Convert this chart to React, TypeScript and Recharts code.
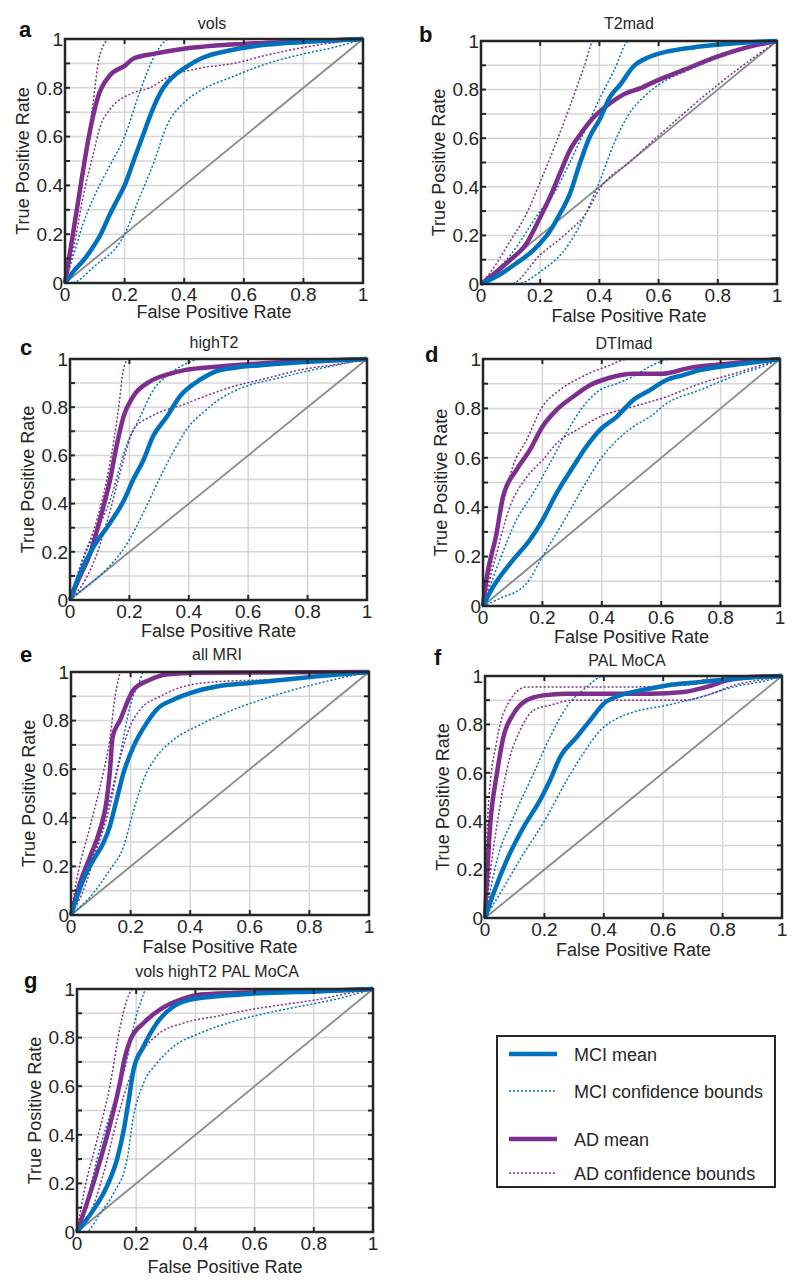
import React from 'react';
import { LineChart, Line, XAxis, YAxis, ReferenceLine, ReferenceArea } from 'recharts';

type Pair = [number, number];

const MCI_COLOR = '#0072BD';
const AD_COLOR = '#7E2F8E';
const CHANCE_COLOR = '#8a8a8a';
const GRID_COLOR = '#d6d6d6';
const INK = '#262626';
const FONT = '"Liberation Sans", Arial, Helvetica, sans-serif';

const axisTicks = [0, 0.2, 0.4, 0.6, 0.8, 1];
const axisTickLabels = ['0', '0.2', '0.4', '0.6', '0.8', '1'];
const yGridTicks = [0.1, 0.2, 0.3, 0.4, 0.5, 0.6, 0.7, 0.8, 0.9];
const xGridTicks = [0.2, 0.4, 0.6, 0.8];
const chance: Pair[] = [[0, 0], [1, 1]];

// a - vols
const volsMciMean: Pair[] = [[0, 0], [0.03, 0.05], [0.06, 0.09], [0.09, 0.14], [0.12, 0.2], [0.15, 0.28], [0.175, 0.34], [0.2, 0.4], [0.23, 0.5], [0.263, 0.61], [0.297, 0.72], [0.33, 0.8], [0.364, 0.847], [0.41, 0.888], [0.46, 0.922], [0.56, 0.955], [0.68, 0.977], [0.8, 0.988], [1, 1]];
const volsMciUpper: Pair[] = [[0, 0], [0.03, 0.12], [0.06, 0.24], [0.1, 0.36], [0.15, 0.48], [0.2, 0.6], [0.25, 0.78], [0.3, 0.93], [0.35, 1], [1, 1]];
const volsMciLower: Pair[] = [[0, 0], [0.02, 0], [0.1, 0.07], [0.2, 0.2], [0.25, 0.35], [0.3, 0.5], [0.34, 0.64], [0.4, 0.74], [0.45, 0.785], [0.566, 0.847], [0.68, 0.9], [0.79, 0.936], [0.9, 0.965], [1, 1]];
const volsAdMean: Pair[] = [[0, 0], [0.02, 0.15], [0.05, 0.38], [0.08, 0.6], [0.11, 0.76], [0.15, 0.85], [0.2, 0.89], [0.23, 0.92], [0.3, 0.94], [0.4, 0.96], [0.6, 0.98], [0.8, 0.99], [1, 1]];
const volsAdUpper: Pair[] = [[0, 0], [0.03, 0.2], [0.06, 0.45], [0.09, 0.7], [0.118, 0.94], [0.15, 1], [1, 1]];
const volsAdLower: Pair[] = [[0, 0], [0.03, 0.15], [0.06, 0.35], [0.095, 0.53], [0.118, 0.64], [0.15, 0.71], [0.23, 0.78], [0.285, 0.8], [0.34, 0.84], [0.45, 0.88], [0.566, 0.9], [0.68, 0.935], [0.79, 0.963], [1, 1]];

// b - T2mad
const t2MciMean: Pair[] = [[0, 0], [0.065, 0.04], [0.12, 0.086], [0.178, 0.14], [0.234, 0.22], [0.267, 0.29], [0.3, 0.37], [0.335, 0.5], [0.369, 0.61], [0.4, 0.675], [0.436, 0.77], [0.47, 0.82], [0.515, 0.895], [0.57, 0.935], [0.627, 0.956], [0.74, 0.977], [0.85, 0.99], [1, 1]];
const t2MciUpper: Pair[] = [[0, 0], [0.1, 0.12], [0.2, 0.3], [0.25, 0.38], [0.3, 0.5], [0.35, 0.63], [0.4, 0.76], [0.45, 0.88], [0.5, 1], [1, 1]];
const t2MciLower: Pair[] = [[0, 0], [0.12, 0], [0.2, 0.05], [0.3, 0.17], [0.35, 0.28], [0.4, 0.42], [0.45, 0.58], [0.5, 0.7], [0.55, 0.77], [0.6, 0.82], [0.7, 0.88], [0.8, 0.93], [0.9, 0.97], [1, 1]];
const t2AdMean: Pair[] = [[0, 0], [0.1, 0.1], [0.15, 0.16], [0.2, 0.275], [0.234, 0.36], [0.267, 0.456], [0.3, 0.55], [0.335, 0.615], [0.38, 0.685], [0.436, 0.744], [0.49, 0.785], [0.537, 0.805], [0.6, 0.84], [0.683, 0.88], [0.795, 0.935], [0.908, 0.977], [1, 1]];
const t2AdUpper: Pair[] = [[0, 0], [0.05, 0.08], [0.1, 0.18], [0.15, 0.28], [0.2, 0.42], [0.25, 0.57], [0.3, 0.73], [0.35, 0.9], [0.38, 1], [1, 1]];
const t2AdLower: Pair[] = [[0, 0], [0.1, 0], [0.2, 0.12], [0.29, 0.21], [0.36, 0.3], [0.4, 0.39], [0.5, 0.5], [0.6, 0.61], [0.8, 0.82], [1, 1]];

// c - highT2
const hiMciMean: Pair[] = [[0, 0], [0.034, 0.11], [0.079, 0.22], [0.135, 0.32], [0.18, 0.41], [0.213, 0.5], [0.247, 0.58], [0.28, 0.68], [0.326, 0.76], [0.37, 0.845], [0.438, 0.914], [0.494, 0.95], [0.55, 0.963], [0.663, 0.976], [0.775, 0.986], [1, 1]];
const hiMciUpper: Pair[] = [[0, 0], [0.045, 0.17], [0.135, 0.415], [0.19, 0.64], [0.236, 0.76], [0.28, 0.87], [0.337, 0.94], [0.39, 0.98], [0.44, 1], [1, 1]];
const hiMciLower: Pair[] = [[0, 0], [0.05, 0.05], [0.1, 0.1], [0.2, 0.25], [0.25, 0.37], [0.3, 0.5], [0.35, 0.62], [0.4, 0.72], [0.45, 0.78], [0.5, 0.83], [0.6, 0.89], [0.7, 0.92], [0.8, 0.95], [0.9, 0.975], [1, 1]];
const hiAdMean: Pair[] = [[0, 0], [0.034, 0.1], [0.067, 0.19], [0.1, 0.33], [0.135, 0.5], [0.157, 0.64], [0.18, 0.76], [0.213, 0.845], [0.27, 0.907], [0.326, 0.935], [0.39, 0.955], [0.494, 0.968], [0.663, 0.983], [1, 1]];
const hiAdUpper: Pair[] = [[0, 0], [0.034, 0.14], [0.09, 0.33], [0.135, 0.57], [0.163, 0.79], [0.18, 0.957], [0.197, 1], [1, 1]];
const hiAdLower: Pair[] = [[0, 0], [0.045, 0.07], [0.09, 0.19], [0.135, 0.37], [0.18, 0.58], [0.213, 0.706], [0.27, 0.76], [0.326, 0.79], [0.38, 0.81], [0.438, 0.838], [0.55, 0.886], [0.663, 0.92], [0.775, 0.955], [0.888, 0.976], [1, 1]];

// d - DTImad
const dtiMciMean: Pair[] = [[0, 0], [0.034, 0.077], [0.1, 0.185], [0.157, 0.266], [0.2, 0.347], [0.247, 0.455], [0.303, 0.563], [0.348, 0.645], [0.393, 0.712], [0.45, 0.766], [0.506, 0.834], [0.562, 0.874], [0.618, 0.915], [0.674, 0.935], [0.73, 0.955], [0.843, 0.976], [1, 1]];
const dtiMciUpper: Pair[] = [[0, 0], [0.056, 0.185], [0.112, 0.347], [0.168, 0.455], [0.225, 0.577], [0.28, 0.7], [0.337, 0.807], [0.393, 0.874], [0.45, 0.9], [0.506, 0.93], [0.562, 0.97], [0.635, 1], [1, 1]];
const dtiMciLower: Pair[] = [[0, 0], [0.056, 0.03], [0.146, 0.09], [0.2, 0.2], [0.28, 0.36], [0.337, 0.48], [0.393, 0.59], [0.45, 0.67], [0.506, 0.726], [0.562, 0.766], [0.618, 0.82], [0.73, 0.874], [0.843, 0.93], [0.955, 0.976], [1, 1]];
const dtiAdMean: Pair[] = [[0, 0], [0.011, 0.104], [0.045, 0.29], [0.067, 0.44], [0.112, 0.55], [0.157, 0.63], [0.2, 0.726], [0.247, 0.793], [0.303, 0.847], [0.36, 0.894], [0.416, 0.92], [0.506, 0.94], [0.6, 0.94], [0.7, 0.965], [0.8, 0.978], [0.9, 0.99], [1, 1]];
const dtiAdUpper: Pair[] = [[0, 0], [0.022, 0.13], [0.056, 0.347], [0.1, 0.563], [0.146, 0.67], [0.2, 0.807], [0.258, 0.874], [0.337, 0.93], [0.416, 0.97], [0.494, 1], [1, 1]];
const dtiAdLower: Pair[] = [[0, 0], [0.045, 0.21], [0.09, 0.4], [0.146, 0.52], [0.2, 0.59], [0.258, 0.67], [0.315, 0.712], [0.393, 0.766], [0.506, 0.807], [0.618, 0.847], [0.73, 0.9], [0.843, 0.94], [0.955, 0.982], [1, 1]];

// e - all MRI
const mriMciMean: Pair[] = [[0, 0], [0.041, 0.144], [0.075, 0.227], [0.108, 0.295], [0.13, 0.364], [0.153, 0.474], [0.176, 0.584], [0.21, 0.694], [0.254, 0.79], [0.287, 0.845], [0.343, 0.886], [0.4, 0.913], [0.489, 0.94], [0.6, 0.955], [0.713, 0.968], [0.824, 0.982], [1, 1]];
const mriMciUpper: Pair[] = [[0, 0], [0.03, 0.13], [0.086, 0.28], [0.13, 0.474], [0.164, 0.652], [0.198, 0.859], [0.232, 0.968], [0.243, 1], [1, 1]];
const mriMciLower: Pair[] = [[0, 0], [0.075, 0.09], [0.13, 0.185], [0.176, 0.28], [0.21, 0.43], [0.243, 0.556], [0.287, 0.652], [0.343, 0.72], [0.433, 0.783], [0.545, 0.845], [0.657, 0.893], [0.768, 0.934], [0.88, 0.968], [1, 1]];
const mriAdMean: Pair[] = [[0, 0], [0.03, 0.13], [0.064, 0.24], [0.097, 0.35], [0.12, 0.474], [0.13, 0.584], [0.14, 0.735], [0.164, 0.8], [0.21, 0.927], [0.265, 0.968], [0.32, 0.99], [0.433, 0.997], [1, 1]];
const mriAdUpper: Pair[] = [[0, 0], [0.019, 0.144], [0.064, 0.364], [0.108, 0.584], [0.13, 0.72], [0.148, 0.9], [0.17, 1], [1, 1]];
const mriAdLower: Pair[] = [[0, 0], [0.041, 0.1], [0.086, 0.268], [0.13, 0.446], [0.164, 0.64], [0.198, 0.776], [0.232, 0.845], [0.3, 0.9], [0.377, 0.94], [0.489, 0.96], [0.657, 0.968], [0.824, 0.98], [1, 1]];

// f - PAL MoCA
const palMciMean: Pair[] = [[0, 0], [0.028, 0.1], [0.073, 0.238], [0.13, 0.376], [0.185, 0.486], [0.219, 0.569], [0.253, 0.665], [0.309, 0.748], [0.354, 0.817], [0.4, 0.886], [0.455, 0.92], [0.522, 0.94], [0.612, 0.961], [0.725, 0.975], [0.837, 0.989], [1, 1]];
const palMciUpper: Pair[] = [[0, 0], [0.04, 0.238], [0.096, 0.417], [0.163, 0.596], [0.219, 0.748], [0.275, 0.872], [0.343, 0.955], [0.4, 1], [1, 1]];
const palMciLower: Pair[] = [[0, 0], [0.05, 0.1], [0.13, 0.266], [0.2, 0.4], [0.275, 0.569], [0.331, 0.68], [0.388, 0.775], [0.444, 0.824], [0.5, 0.851], [0.612, 0.879], [0.725, 0.913], [0.837, 0.955], [0.95, 0.982], [1, 1]];
const palAdMean: Pair[] = [[0, 0], [0.017, 0.376], [0.04, 0.596], [0.062, 0.748], [0.096, 0.844], [0.14, 0.9], [0.197, 0.92], [0.275, 0.927], [0.388, 0.927], [0.556, 0.927], [0.669, 0.934], [0.747, 0.955], [0.815, 0.982], [0.893, 0.996], [1, 1]];
const palAdUpper: Pair[] = [[0, 0], [0.011, 0.46], [0.04, 0.734], [0.084, 0.9], [0.14, 0.955], [0.3, 0.955], [0.5, 0.955], [0.7, 0.965], [0.77, 1], [1, 1]];
const palAdLower: Pair[] = [[0, 0], [0.017, 0.18], [0.05, 0.46], [0.084, 0.665], [0.118, 0.775], [0.163, 0.858], [0.219, 0.879], [0.298, 0.9], [0.5, 0.9], [0.669, 0.9], [0.747, 0.92], [0.837, 0.961], [0.95, 0.989], [1, 1]];

// g - vols highT2 PAL MoCA
const comboMciMean: Pair[] = [[0, 0], [0.056, 0.092], [0.101, 0.188], [0.135, 0.298], [0.158, 0.42], [0.175, 0.545], [0.191, 0.668], [0.225, 0.764], [0.27, 0.86], [0.327, 0.929], [0.383, 0.956], [0.473, 0.97], [0.642, 0.984], [0.81, 0.99], [1, 1]];
const comboMciUpper: Pair[] = [[0, 0], [0.034, 0.133], [0.079, 0.352], [0.124, 0.53], [0.169, 0.709], [0.191, 0.846], [0.214, 0.942], [0.236, 1], [1, 1]];
const comboMciLower: Pair[] = [[0, 0], [0.03, 0], [0.079, 0.078], [0.124, 0.16], [0.169, 0.298], [0.191, 0.476], [0.225, 0.613], [0.27, 0.695], [0.327, 0.764], [0.417, 0.819], [0.53, 0.867], [0.642, 0.901], [0.755, 0.929], [0.867, 0.956], [1, 1]];
const comboAdMean: Pair[] = [[0, 0], [0.034, 0.12], [0.079, 0.298], [0.113, 0.449], [0.146, 0.62], [0.16, 0.71], [0.18, 0.79], [0.225, 0.86], [0.28, 0.915], [0.35, 0.956], [0.417, 0.977], [0.53, 0.984], [0.755, 0.99], [1, 1]];
const comboAdUpper: Pair[] = [[0, 0], [0.023, 0.16], [0.068, 0.38], [0.113, 0.613], [0.146, 0.846], [0.169, 0.956], [0.191, 1], [1, 1]];
const comboAdLower: Pair[] = [[0, 0], [0.045, 0.078], [0.09, 0.243], [0.135, 0.462], [0.18, 0.64], [0.225, 0.75], [0.28, 0.819], [0.36, 0.86], [0.473, 0.888], [0.585, 0.915], [0.698, 0.936], [0.81, 0.956], [0.923, 0.984], [1, 1]];

const legendLabels = ['MCI mean', 'MCI confidence bounds', 'AD mean', 'AD confidence bounds'];

type Panel = {
  letter: string;
  title: string;
  curves: Pair[][]; // mciMean, mciUpper, mciLower, adMean, adUpper, adLower
  box: [number, number, number, number]; // plot area left, top, width, height
  letterAt: [number, number];
  titleAt: [number, number];
  xLabelDy: number;
};

const panels: Panel[] = [
  { letter: 'a', title: 'vols', curves: [volsMciMean, volsMciUpper, volsMciLower, volsAdMean, volsAdUpper, volsAdLower], box: [65, 39, 298, 244], letterAt: [19, 37], titleAt: [212, 29], xLabelDy: 35 },
  { letter: 'b', title: 'T2mad', curves: [t2MciMean, t2MciUpper, t2MciLower, t2AdMean, t2AdUpper, t2AdLower], box: [481, 41, 296, 243], letterAt: [419, 42], titleAt: [629, 29], xLabelDy: 38 },
  { letter: 'c', title: 'highT2', curves: [hiMciMean, hiMciUpper, hiMciLower, hiAdMean, hiAdUpper, hiAdLower], box: [70, 359, 297, 241], letterAt: [20, 355], titleAt: [214, 348], xLabelDy: 37 },
  { letter: 'd', title: 'DTImad', curves: [dtiMciMean, dtiMciUpper, dtiMciLower, dtiAdMean, dtiAdUpper, dtiAdLower], box: [483, 359, 297, 247], letterAt: [425, 362], titleAt: [624, 349], xLabelDy: 37 },
  { letter: 'e', title: 'all MRI', curves: [mriMciMean, mriMciUpper, mriMciLower, mriAdMean, mriAdUpper, mriAdLower], box: [71, 672, 298, 243], letterAt: [20, 662], titleAt: [217, 660], xLabelDy: 38 },
  { letter: 'f', title: 'PAL MoCA', curves: [palMciMean, palMciUpper, palMciLower, palAdMean, palAdUpper, palAdLower], box: [485, 676, 297, 242], letterAt: [434, 665], titleAt: [627, 666], xLabelDy: 38 },
  { letter: 'g', title: 'vols highT2 PAL MoCA', curves: [comboMciMean, comboMciUpper, comboMciLower, comboAdMean, comboAdUpper, comboAdLower], box: [77, 989, 296, 243], letterAt: [24, 988], titleAt: [217, 977], xLabelDy: 41 },
];

const toPts = (arr: Pair[]) => arr.map(([x, y]) => ({ x, y }));

const ML = 72;
const MT = 16;
const MR = 10;
const MB = 50;
const TICK_FONT = 19;
const LABEL_FONT = 18;

const tickText = (v: number) => axisTickLabels[axisTicks.indexOf(v)] ?? String(v);

const XTick = (p: any) => (
  <text x={p.x} y={p.y + 18} textAnchor="middle" fontSize={TICK_FONT} fontFamily={FONT} fill={INK}>
    {tickText(p.payload.value)}
  </text>
);

const YTick = (p: any) => (
  <text x={p.x - 2} y={p.y + 6.7} textAnchor="end" fontSize={TICK_FONT} fontFamily={FONT} fill={INK}>
    {tickText(p.payload.value)}
  </text>
);

function RocPanel({ panel }: { panel: Panel }) {
  const [px, py, pw, ph] = panel.box;
  const tx = 5 / pw;
  const ty = 5 / ph;
  const [mciMean, mciUpper, mciLower, adMean, adUpper, adLower] = panel.curves;
  const bounds = [
    { key: 'mciUp', data: mciUpper, color: MCI_COLOR },
    { key: 'mciLo', data: mciLower, color: MCI_COLOR },
    { key: 'adUp', data: adUpper, color: AD_COLOR },
    { key: 'adLo', data: adLower, color: AD_COLOR },
  ];

  return (
    <div style={{ position: 'absolute', left: px - ML, top: py - MT }}>
      <LineChart width={pw + ML + MR} height={ph + MT + MB} margin={{ top: MT, right: MR, bottom: 0, left: 0 }}>
        <XAxis
          type="number"
          dataKey="x"
          domain={[0, 1]}
          ticks={axisTicks}
          interval={0}
          height={MB}
          axisLine={false}
          tickLine={false}
          tickSize={0}
          tickMargin={0}
          tick={XTick}
          label={() => (
            <text x={ML + pw / 2} y={MT + ph + panel.xLabelDy} textAnchor="middle" fontSize={LABEL_FONT} fontFamily={FONT} fill={INK}>
              False Positive Rate
            </text>
          )}
        />
        <YAxis
          type="number"
          dataKey="y"
          domain={[0, 1]}
          ticks={axisTicks}
          interval={0}
          width={ML}
          axisLine={false}
          tickLine={false}
          tickSize={0}
          tickMargin={0}
          tick={YTick}
          label={() => (
            <text
              x={ML - 36}
              y={MT + ph / 2}
              transform={`rotate(-90, ${ML - 36}, ${MT + ph / 2})`}
              textAnchor="middle"
              fontSize={LABEL_FONT}
              fontFamily={FONT}
              fill={INK}
            >
              True Positive Rate
            </text>
          )}
        />

        {yGridTicks.map((v) => (
          <ReferenceLine key={`gy${v}`} y={v} stroke={GRID_COLOR} strokeWidth={1.5} zIndex={-50} />
        ))}
        {xGridTicks.map((v) => (
          <ReferenceLine key={`gx${v}`} x={v} stroke={GRID_COLOR} strokeWidth={1.5} zIndex={-50} />
        ))}

        <Line data={toPts(chance)} dataKey="y" type="linear" stroke={CHANCE_COLOR} strokeWidth={1.8} dot={false} activeDot={false} isAnimationActive={false} />

        {bounds.map((b) => (
          <Line
            key={b.key}
            data={toPts(b.data)}
            dataKey="y"
            type="monotone"
            stroke={b.color}
            strokeWidth={1.5}
            strokeDasharray="2 2"
            dot={false}
            activeDot={false}
            isAnimationActive={false}
          />
        ))}
        <Line data={toPts(adMean)} dataKey="y" type="monotone" stroke={AD_COLOR} strokeWidth={4.5} dot={false} activeDot={false} isAnimationActive={false} />
        <Line data={toPts(mciMean)} dataKey="y" type="monotone" stroke={MCI_COLOR} strokeWidth={4.5} dot={false} activeDot={false} isAnimationActive={false} />

        {yGridTicks.map((v) => (
          <ReferenceLine key={`tl${v}`} segment={[{ x: 0, y: v }, { x: tx, y: v }]} stroke={INK} strokeWidth={2} zIndex={1000} />
        ))}
        {yGridTicks.map((v) => (
          <ReferenceLine key={`tr${v}`} segment={[{ x: 1 - tx, y: v }, { x: 1, y: v }]} stroke={INK} strokeWidth={2} zIndex={1000} />
        ))}
        {xGridTicks.map((v) => (
          <ReferenceLine key={`tb${v}`} segment={[{ x: v, y: 0 }, { x: v, y: ty }]} stroke={INK} strokeWidth={2} zIndex={1000} />
        ))}
        {xGridTicks.map((v) => (
          <ReferenceLine key={`tt${v}`} segment={[{ x: v, y: 1 - ty }, { x: v, y: 1 }]} stroke={INK} strokeWidth={2} zIndex={1000} />
        ))}
        <ReferenceArea x1={0} x2={1} y1={0} y2={1} fill="none" fillOpacity={0} stroke={INK} strokeWidth={2.5} zIndex={1000} />
      </LineChart>
    </div>
  );
}

function Overlay() {
  const legendRows = [
    { label: legendLabels[0], color: MCI_COLOR, width: 4.5, dash: undefined, y: 1054 },
    { label: legendLabels[1], color: MCI_COLOR, width: 1.5, dash: '2 2', y: 1091 },
    { label: legendLabels[2], color: AD_COLOR, width: 4.5, dash: undefined, y: 1139 },
    { label: legendLabels[3], color: AD_COLOR, width: 1.5, dash: '2 2', y: 1173 },
  ];
  return (
    <svg width={800} height={1285} style={{ position: 'absolute', left: 0, top: 0, pointerEvents: 'none' }}>
      {panels.map((p) => (
        <g key={p.letter}>
          <text x={p.letterAt[0]} y={p.letterAt[1]} fontSize={22} fontWeight="bold" fontFamily={FONT} fill="#111">
            {p.letter}
          </text>
          <text x={p.titleAt[0]} y={p.titleAt[1]} textAnchor="middle" fontSize={16} fontFamily={FONT} fill={INK}>
            {p.title}
          </text>
        </g>
      ))}
      <rect x={497} y={1036} width={278} height={151} fill="none" stroke={INK} strokeWidth={2} />
      {legendRows.map((r) => (
        <g key={r.label}>
          <line x1={509} x2={557} y1={r.y} y2={r.y} stroke={r.color} strokeWidth={r.width} strokeDasharray={r.dash} />
          <text x={574} y={r.y + 6.5} fontSize={LABEL_FONT} fontFamily={FONT} fill={INK}>
            {r.label}
          </text>
        </g>
      ))}
    </svg>
  );
}

export default function App() {
  return (
    <div style={{ position: 'absolute', left: 0, top: 0, width: 800, height: 1285, background: '#fff', fontFamily: FONT }}>
      {panels.map((p) => (
        <RocPanel key={p.letter} panel={p} />
      ))}
      <Overlay />
    </div>
  );
}
